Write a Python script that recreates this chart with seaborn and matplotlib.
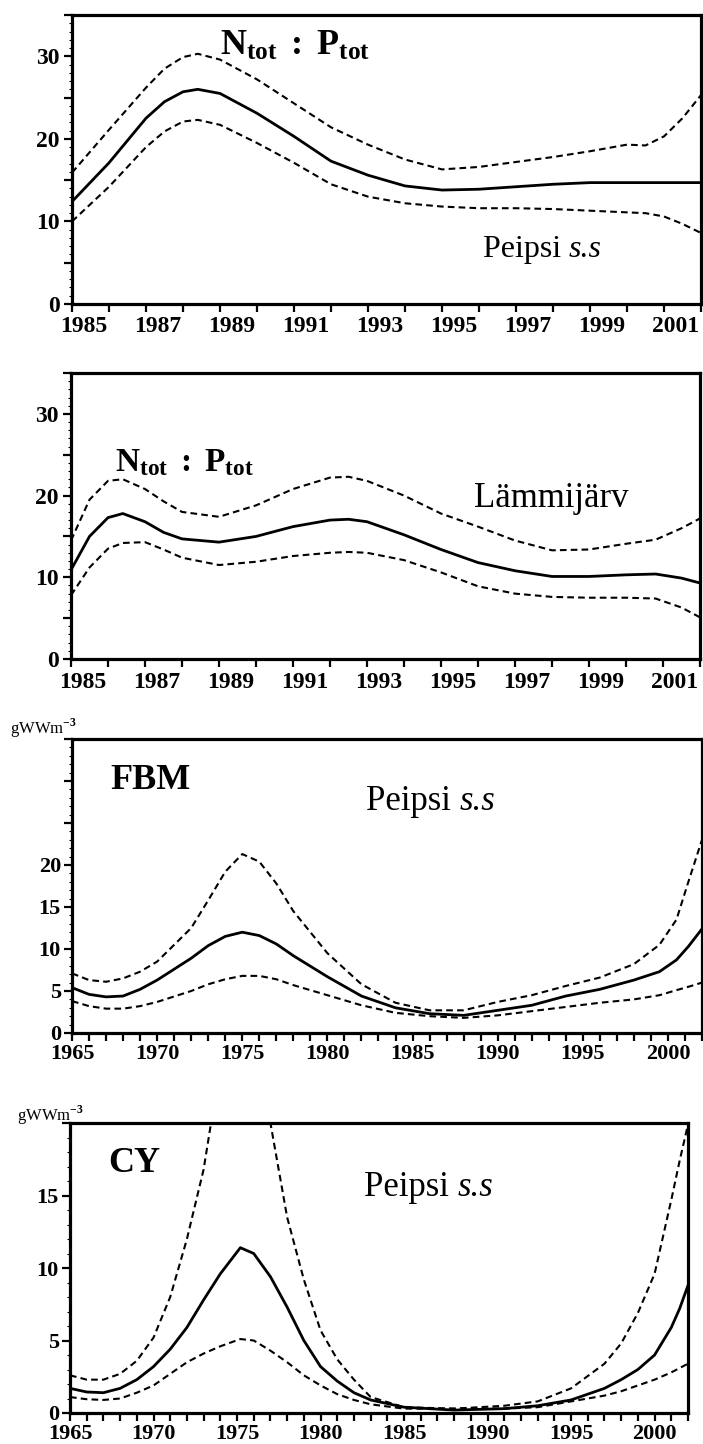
import numpy as np
import pandas as pd
import seaborn as sns
import matplotlib.pyplot as plt
import matplotlib.transforms as mtransforms
from matplotlib.ticker import MultipleLocator, FuncFormatter

# ---- N:P ratio, Peipsi s.s (1985-2002)
np_peipsi_year = [1985, 1986, 1987, 1987.5, 1988, 1988.4, 1989, 1990, 1991, 1992, 1993, 1994,
                  1995, 1996, 1997, 1998, 1999, 2000, 2000.5, 2001, 2001.5, 2002]
np_peipsi_mid = [12.4, 17.1, 22.5, 24.5, 25.7, 26.0, 25.5, 23.1, 20.3, 17.3, 15.6, 14.3,
                 13.8, 13.9, 14.2, 14.5, 14.7, 14.7, 14.7, 14.7, 14.7, 14.7]
np_peipsi_up = [15.9, 21.1, 26.2, 28.5, 29.9, 30.3, 29.6, 27.2, 24.3, 21.4, 19.3, 17.5,
                16.3, 16.6, 17.2, 17.8, 18.5, 19.3, 19.2, 20.3, 22.5, 25.3]
np_peipsi_lo = [10.0, 14.2, 19.0, 20.9, 22.1, 22.3, 21.7, 19.5, 17.1, 14.5, 13.0, 12.2,
                11.8, 11.6, 11.6, 11.5, 11.3, 11.1, 11.0, 10.6, 9.7, 8.6]

# ---- N:P ratio, Lämmijärv (1985-2002)
np_lammi_year = [1985, 1985.5, 1986, 1986.4, 1987, 1987.5, 1988, 1989, 1990, 1991, 1992,
                 1992.5, 1993, 1994, 1995, 1996, 1997, 1998, 1999, 2000, 2000.8, 2001.5, 2002]
np_lammi_mid = [10.9, 15.0, 17.3, 17.8, 16.8, 15.5, 14.7, 14.3, 15.0, 16.2, 17.0,
                17.1, 16.8, 15.2, 13.4, 11.8, 10.8, 10.1, 10.1, 10.3, 10.4, 9.9, 9.3]
np_lammi_up = [14.5, 19.5, 21.8, 22.0, 20.8, 19.3, 18.0, 17.4, 18.8, 20.8, 22.2,
               22.3, 21.8, 20.0, 17.8, 16.2, 14.5, 13.3, 13.4, 14.1, 14.6, 16.0, 17.2]
np_lammi_lo = [7.8, 11.2, 13.5, 14.2, 14.3, 13.4, 12.4, 11.5, 11.9, 12.6, 13.0,
               13.1, 13.0, 12.1, 10.6, 8.9, 8.0, 7.6, 7.5, 7.5, 7.4, 6.3, 5.1]

# ---- FBM, Peipsi s.s (1965-2002), gWWm-3
fbm_year = [1965, 1966, 1967, 1968, 1969, 1970, 1972, 1973, 1974, 1975, 1976, 1977, 1978,
            1980, 1982, 1984, 1986, 1988, 1990, 1992, 1994, 1996, 1998, 1999.5, 2000.5,
            2001.2, 2002]
fbm_mid = [5.4, 4.6, 4.3, 4.4, 5.2, 6.3, 8.9, 10.4, 11.5, 12.0, 11.6, 10.6, 9.2,
           6.7, 4.4, 3.0, 2.3, 2.1, 2.7, 3.3, 4.4, 5.2, 6.3, 7.3, 8.7,
           10.3, 12.4]
fbm_up = [7.1, 6.3, 6.1, 6.5, 7.3, 8.5, 12.5, 15.8, 19.2, 21.3, 20.4, 17.8, 14.5,
          9.5, 5.8, 3.6, 2.7, 2.7, 3.7, 4.5, 5.6, 6.6, 8.2, 10.5, 13.5,
          18.0, 23.0]
fbm_lo = [3.8, 3.2, 2.9, 2.9, 3.2, 3.7, 5.0, 5.8, 6.4, 6.8, 6.8, 6.4, 5.7,
          4.5, 3.3, 2.4, 2.0, 1.8, 2.1, 2.6, 3.1, 3.6, 4.0, 4.5, 5.1,
          5.5, 6.0]

# ---- CY, Peipsi s.s (1965-2002), gWWm-3
cy_year = [1965, 1966, 1967, 1968, 1969, 1970, 1971, 1972, 1973, 1974, 1975.2, 1976, 1977,
           1978, 1979, 1980, 1981, 1982, 1983, 1985, 1988, 1991, 1993, 1995, 1997,
           1998, 1999, 2000, 2001, 2001.5, 2002]
cy_mid = [1.7, 1.45, 1.4, 1.7, 2.3, 3.2, 4.4, 5.9, 7.8, 9.6, 11.4, 11.0, 9.4,
          7.3, 5.0, 3.2, 2.2, 1.4, 0.9, 0.4, 0.2, 0.3, 0.5, 0.9, 1.7,
          2.3, 3.0, 4.0, 5.9, 7.2, 8.8]
cy_up = [2.6, 2.3, 2.3, 2.7, 3.6, 5.2, 8.0, 12.0, 16.8, 24.0, 28.0, 26.0, 20.0,
         13.5, 9.2, 5.7, 3.7, 2.3, 1.1, 0.4, 0.3, 0.5, 0.8, 1.7, 3.4,
         4.8, 6.9, 9.6, 14.7, 17.4, 19.9]
cy_lo = [1.1, 0.95, 0.9, 1.0, 1.4, 1.9, 2.7, 3.5, 4.1, 4.6, 5.1, 5.0, 4.3,
         3.5, 2.6, 1.9, 1.3, 0.9, 0.6, 0.3, 0.3, 0.3, 0.4, 0.8, 1.2,
         1.5, 1.9, 2.3, 2.8, 3.1, 3.4]

sns.set_style("ticks")
plt.rcParams['font.family'] = ['Liberation Serif', 'DejaVu Serif']
plt.rcParams['font.weight'] = 'bold'
plt.rcParams['text.color'] = 'black'
plt.rcParams['mathtext.fontset'] = 'custom'
plt.rcParams['mathtext.rm'] = 'Liberation Serif'
plt.rcParams['mathtext.bf'] = 'Liberation Serif:bold'

W, H = 703, 1444
fig = plt.figure(figsize=(W / 100, H / 100), dpi=100)


def box(left, top, right, bottom):
    return [left / W, (H - bottom) / H, (right - left) / W, (bottom - top) / H]


def draw(ax, years, mid, up, lo):
    df = pd.DataFrame({'year': years, 'mid': mid, 'up': up, 'lo': lo})
    sns.lineplot(data=df, x='year', y='mid', ax=ax, color='black', lw=2.0)
    for col in ['up', 'lo']:
        sns.lineplot(data=df, x='year', y=col, ax=ax, color='black', lw=1.5,
                     linestyle=(0, (3.2, 2.0)))
    ax.set_xlabel('')
    ax.set_ylabel('')
    for s in ax.spines.values():
        s.set_visible(True)
        s.set_linewidth(2.3)
        s.set_color('black')
    ax.tick_params(axis='both', which='major', direction='out', length=6, width=1.6,
                   color='black', labelcolor='black')
    ax.tick_params(axis='y', which='minor', direction='out', length=2.5, width=0.8,
                   color='black')
    ax.tick_params(axis='x', which='minor', length=0)
    ax.yaxis.set_minor_locator(MultipleLocator(1))
    ax.xaxis.set_major_locator(MultipleLocator(1))


def peipsi(ax, x, y, size):
    # "Peipsi" upright, "s.s" italic, joined at (x, y)
    ax.text(x, y, 'Peipsi ', transform=ax.transAxes, ha='right', va='center',
            fontsize=size, fontweight='normal')
    ax.text(x, y, 's.s', transform=ax.transAxes, ha='left', va='center',
            fontsize=size, fontweight='normal', fontstyle='italic')


ratio = r'$\mathbf{N_{tot}}\,\mathbf{:}\,\mathbf{P_{tot}}$'

# panel 1
ax1 = fig.add_axes(box(72, 15, 701, 304))
draw(ax1, np_peipsi_year, np_peipsi_mid, np_peipsi_up, np_peipsi_lo)
ax1.set_xlim(1985, 2002)
ax1.set_ylim(0, 35)
ax1.text(0.355, 0.89, ratio, transform=ax1.transAxes, ha='center', va='center', fontsize=26)
peipsi(ax1, 0.79, 0.19, 23)

# panel 2
ax2 = fig.add_axes(box(71, 373, 700, 659))
draw(ax2, np_lammi_year, np_lammi_mid, np_lammi_up, np_lammi_lo)
ax2.set_xlim(1985, 2002)
ax2.set_ylim(0, 35)
ax2.text(0.18, 0.685, ratio, transform=ax2.transAxes, ha='center', va='center', fontsize=24)
ax2.text(0.763, 0.56, 'Lämmijärv', transform=ax2.transAxes, ha='center', va='center',
         fontsize=25, fontweight='normal')

for ax in (ax1, ax2):
    ax.yaxis.set_major_locator(MultipleLocator(5))
    ax.yaxis.set_major_formatter(FuncFormatter(lambda v, p: f'{int(round(v))}' if round(v) % 10 == 0 and v < 34 else ''))
    ax.xaxis.set_major_formatter(FuncFormatter(lambda v, p: f'{int(round(v))}' if round(v) % 2 == 1 else ''))
    ax.tick_params(axis='both', which='major', labelsize=17, pad=3)
    offset = mtransforms.ScaledTranslation(0.12, 0, fig.dpi_scale_trans)
    for lab in ax.get_xticklabels():
        lab.set_transform(lab.get_transform() + offset)

# panel 3
ax3 = fig.add_axes(box(72, 739, 702, 1033))
draw(ax3, fbm_year, fbm_mid, fbm_up, fbm_lo)
ax3.set_xlim(1965, 2002)
ax3.set_ylim(0, 35)
ax3.yaxis.set_major_locator(MultipleLocator(5))
ax3.yaxis.set_major_formatter(FuncFormatter(lambda v, p: f'{int(round(v))}' if v < 21 else ''))
ax3.text(0.124, 0.86, 'FBM', transform=ax3.transAxes, ha='center', va='center', fontsize=26)
peipsi(ax3, 0.615, 0.786, 25)

# panel 4
ax4 = fig.add_axes(box(70, 1123, 688, 1413))
draw(ax4, cy_year, cy_mid, cy_up, cy_lo)
ax4.set_xlim(1965, 2002)
ax4.set_ylim(0, 20)
ax4.yaxis.set_major_locator(MultipleLocator(5))
ax4.yaxis.set_major_formatter(FuncFormatter(lambda v, p: f'{int(round(v))}' if v < 19 else ''))
ax4.text(0.104, 0.862, 'CY', transform=ax4.transAxes, ha='center', va='center', fontsize=26)
peipsi(ax4, 0.627, 0.776, 25)

for ax in (ax3, ax4):
    ax.xaxis.set_major_formatter(FuncFormatter(lambda v, p: f'{int(round(v))}' if round(v) % 5 == 0 else ''))
    ax.tick_params(axis='both', which='major', labelsize=16, pad=2)

unit = r'gWWm$^{\mathrm{-3}}$'
fig.text(10 / W, 1 - 728 / H, unit, ha='left', va='center', fontsize=12, fontweight='normal')
fig.text(17 / W, 1 - 1115 / H, unit, ha='left', va='center', fontsize=12, fontweight='normal')

fig.savefig('out.png', dpi=100)
